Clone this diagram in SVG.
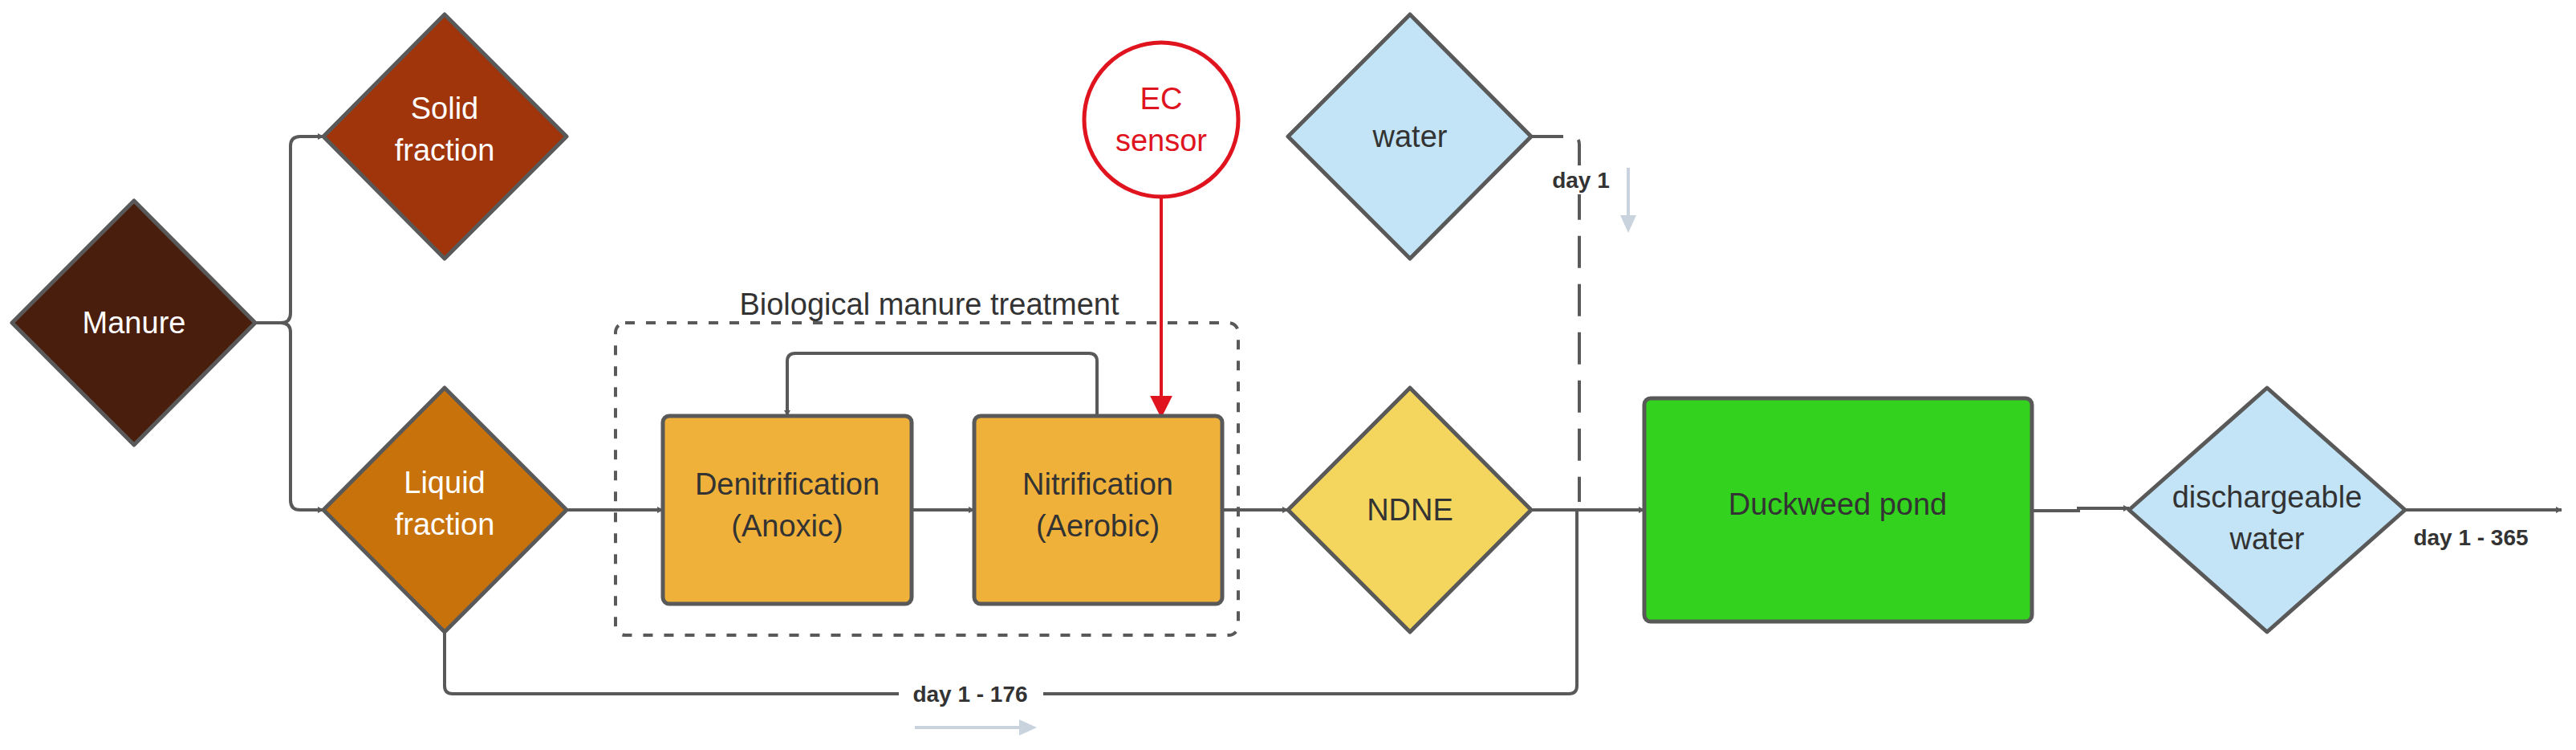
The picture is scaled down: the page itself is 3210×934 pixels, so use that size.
<svg xmlns="http://www.w3.org/2000/svg" width="3210" height="934" viewBox="0 0 3210 934">
<style>
.n{stroke:#595959;stroke-width:5;stroke-linejoin:round}
.t{font-family:"Liberation Sans",Arial,sans-serif;font-size:38px;text-anchor:middle}
.w{fill:#ffffff}.d{fill:#333333}
.c{fill:none;stroke:#595959;stroke-width:4}
.b{font-family:"Liberation Sans",Arial,sans-serif;font-size:28px;font-weight:bold;fill:#333333}
</style>
<defs>
<marker id="a" viewBox="0 0 10 10" refX="9" refY="5" markerWidth="8" markerHeight="8" markerUnits="userSpaceOnUse" orient="auto"><path d="M0,0L10,5L0,10z" fill="#595959"/></marker>
<marker id="ar" viewBox="0 0 10 10" refX="9" refY="5" markerWidth="7" markerHeight="7" orient="auto"><path d="M0,0L10,5L0,10z" fill="#e0141e"/></marker>
</defs>
<rect width="3210" height="934" fill="#fff"/>
<g id="connectors">
<path class="c" d="M318,402H350Q362,402 362,390V182Q362,170 374,170H403" marker-end="url(#a)"/>
<path class="c" d="M350,402Q362,402 362,414V623Q362,635 374,635H403" marker-end="url(#a)"/>
<path class="c" d="M706,635H826" marker-end="url(#a)"/>
<path class="c" d="M1136,635H1214" marker-end="url(#a)"/>
<path class="c" d="M1523,635H1605" marker-end="url(#a)"/>
<path class="c" d="M1367,518V450Q1367,440 1357,440H991Q981,440 981,450V518" marker-end="url(#a)"/>
<path d="M1447,246V518" fill="none" stroke="#e0141e" stroke-width="4" marker-end="url(#ar)"/>
<path class="c" d="M554,787V854Q554,864 564,864H1955Q1965,864 1965,854V635"/>
<path class="c" d="M1908,170H1958Q1968,170 1968,180V625" stroke-dasharray="40,20"/>
<path class="c" d="M1908,635H2049" marker-end="url(#a)"/>
<path class="c" d="M2532,636H2590V633H2653" marker-end="url(#a)"/>
<path class="c" d="M2997,635H3192" marker-end="url(#a)"/>
<path d="M1140,906H1272" stroke="#c9d3de" stroke-width="4"/><path d="M1270,896L1292,906L1270,916z" fill="#c9d3de"/>
<path d="M2029,209V270" stroke="#c9d3de" stroke-width="4"/><path d="M2019,268L2029,290L2039,268z" fill="#c9d3de"/>
<rect x="1120" y="846" width="180" height="36" fill="#fff"/>
<text class="b" x="1209" y="874" text-anchor="middle">day 1 - 176</text>
<rect x="1930" y="206" width="80" height="36" fill="#fff"/>
<text class="b" x="1970" y="234" text-anchor="middle">day 1</text>
<text class="b" x="3079" y="679" text-anchor="middle">day 1 - 365</text>
</g>
<g id="bio">
<rect x="767" y="402" width="776" height="389" rx="12" fill="none" stroke="#595959" stroke-width="4" stroke-dasharray="12,14"/>
<text class="t d" x="1158" y="392">Biological manure treatment</text>
</g>
<g id="manure"><path class="n" d="M167,250L318,402L167,554L15,402z" fill="#4a1e0c"/><text class="t w" x="167" y="415">Manure</text></g>
<g id="solid"><path class="n" d="M554,18L706,170L554,322L403,170z" fill="#a0340b"/><text class="t w" x="554" y="148">Solid</text><text class="t w" x="554" y="200">fraction</text></g>
<g id="liquid"><path class="n" d="M554,483L706,635L554,787L403,635z" fill="#c8720b"/><text class="t w" x="554" y="614">Liquid</text><text class="t w" x="554" y="666">fraction</text></g>
<g id="denit"><rect class="n" x="826" y="518" width="310" height="234" rx="8" fill="#f0b13a"/><text class="t d" x="981" y="616">Denitrification</text><text class="t d" x="981" y="668">(Anoxic)</text></g>
<g id="nit"><rect class="n" x="1214" y="518" width="309" height="234" rx="8" fill="#f0b13a"/><text class="t d" x="1368" y="616">Nitrification</text><text class="t d" x="1368" y="668">(Aerobic)</text></g>
<g id="ec"><circle cx="1447" cy="149" r="96" fill="#fff" stroke="#e0141e" stroke-width="5"/><text class="t" fill="#e0141e" x="1447" y="136">EC</text><text class="t" fill="#e0141e" x="1447" y="188">sensor</text></g>
<g id="water"><path class="n" d="M1757,18L1908,170L1757,322L1605,170z" fill="#c2e4f6"/><text class="t d" x="1757" y="183">water</text></g>
<g id="ndne"><path class="n" d="M1757,483L1908,635L1757,787L1605,635z" fill="#f4d55e"/><text class="t d" x="1757" y="648">NDNE</text></g>
<g id="pond"><rect class="n" x="2049" y="496" width="483" height="278" rx="8" fill="#33d21e"/><text class="t d" x="2290" y="641">Duckweed pond</text></g>
<g id="discharge"><path class="n" d="M2825,483L2997,635L2825,787L2653,635z" fill="#c2e4f6"/><text class="t d" x="2825" y="632">dischargeable</text><text class="t d" x="2825" y="684">water</text></g>
</svg>
